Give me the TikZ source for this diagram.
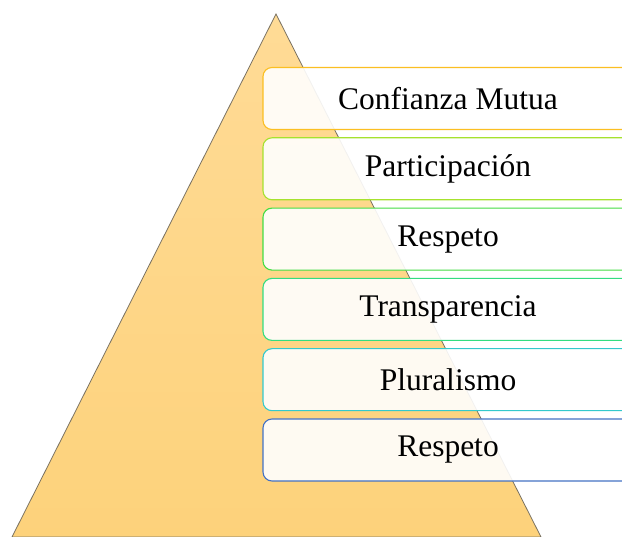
\documentclass[tikz,border=0pt]{standalone}
\usepackage{fontspec}
\setmainfont{Liberation Serif}
\definecolor{tritop}{HTML}{FFDB96}
\definecolor{tribot}{HTML}{FDD27B}
\definecolor{triline}{HTML}{7A7262}
\definecolor{cA}{HTML}{FBBF22}
\definecolor{cB}{HTML}{A6E22E}
\definecolor{cC}{HTML}{44DD44}
\definecolor{cD}{HTML}{33DD80}
\definecolor{cE}{HTML}{33C9CC}
\definecolor{cF}{HTML}{4472C4}
\begin{document}
\begin{tikzpicture}[x=1pt,y=-1pt,
  tier/.style={draw=#1, line width=1.1pt, rounded corners=9pt, fill=white, fill opacity=0.9, text opacity=1,
    minimum width=370pt, minimum height=62pt, inner sep=0pt,
    font=\fontsize{31.5}{36}\selectfont, text=black}]
\clip (0,0) rectangle (622,537);
\fill[white] (0,0) rectangle (622,537);
\shade[top color=tritop, bottom color=tribot, draw=triline, line width=0.8pt]
  (276,14) -- (541,537) -- (12,537) -- cycle;
\node[tier=cA] (t1) at (448,98.5) {Confianza Mutua};
\node[tier=cB] (t2) at (448,168.8) {Participación};
\node[tier=cC] (t3) at (448,239.1) {Respeto};
\node[tier=cD] (t4) at (448,309.4) {Transparencia};
\node[tier=cE] (t5) at (448,379.7) {Pluralismo};
\node[tier=cF] (t6) at (448,450.0) {Respeto};
\end{tikzpicture}
\end{document}
